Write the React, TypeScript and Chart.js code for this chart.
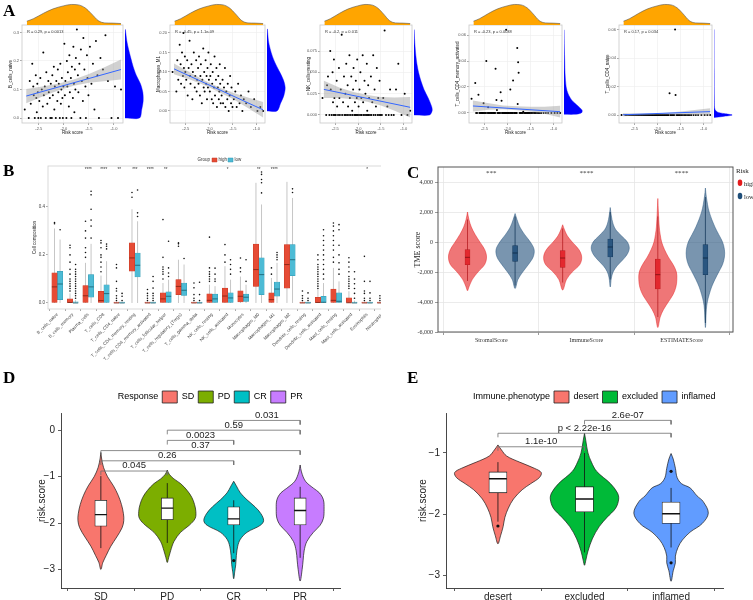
import React, { useEffect, useRef } from 'react';
import { Chart, registerables } from 'chart.js';

Chart.register(...registerables);

const SANS = "'Liberation Sans', Arial, Helvetica, sans-serif";
const SERIF = "'Liberation Serif', 'Times New Roman', Times, serif";

/* ================= Panel A data ================= */
const RISK_SCORE = [
  -2.78, -2.70, -2.68, -2.66, -2.63, -2.61, -2.60, -2.58, -2.56, -2.55, -2.54, -2.53, -2.52, -2.51,
  -2.49, -2.47, -2.46, -2.44, -2.42, -2.41, -2.40, -2.38, -2.36, -2.35, -2.33, -2.31, -2.30, -2.28, -2.27, -2.26,
  -2.24, -2.23, -2.22, -2.20, -2.19, -2.18, -2.16, -2.15, -2.13, -2.12, -2.11, -2.10, -2.08, -2.07, -2.06, -2.05, -2.04, -2.03, -2.02, -2.01,
  -1.99, -1.98, -1.97, -1.95, -1.94, -1.93, -1.92, -1.90, -1.89, -1.88, -1.86, -1.85, -1.84, -1.82, -1.81, -1.80, -1.79, -1.78, -1.77, -1.76,
  -1.74, -1.72, -1.71, -1.69, -1.67, -1.66, -1.64, -1.62, -1.61, -1.59, -1.57, -1.56, -1.54, -1.53, -1.51,
  -1.48, -1.45, -1.42, -1.39, -1.36, -1.33, -1.30, -1.27,
  -1.22, -1.17, -1.12, -1.05, -0.98, -0.92, -0.86,
];
const B_CELLS_NAIVE = [
  0.03, 0.0, 0.13, 0.05, 0.19, 0.11, 0.08, 0.0, 0.15, 0.07, 0.02, 0.12, 0.09, 0.0,
  0.06, 0.14, 0.0, 0.10, 0.04, 0.23, 0.08, 0.11, 0.0, 0.16, 0.05, 0.13, 0.09, 0.07, 0.0, 0.12,
  0.0, 0.15, 0.08, 0.18, 0.03, 0.11, 0.0, 0.13, 0.06, 0.17, 0.09, 0.12, 0.0, 0.19, 0.05, 0.10, 0.14, 0.07, 0.0, 0.11,
  0.26, 0.08, 0.13, 0.0, 0.20, 0.11, 0.16, 0.04, 0.22, 0.09, 0.14, 0.0, 0.18, 0.07, 0.25, 0.12, 0.02, 0.17, 0.10, 0.21,
  0.31, 0.15, 0.09, 0.19, 0.0, 0.24, 0.13, 0.06, 0.28, 0.17, 0.11, 0.0, 0.22, 0.14, 0.08,
  0.25, 0.12, 0.19, 0.03, 0.27, 0.15, 0.0, 0.21,
  0.17, 0.29, 0.13, 0.0, 0.11, 0.0, 0.10,
];
const MACROPHAGES_M1 = [
  0.10, 0.05, 0.13, 0.08, 0.17, 0.12, 0.07, 0.15, 0.09, 0.20, 0.11, 0.06, 0.14, 0.10,
  0.08, 0.13, 0.04, 0.11, 0.18, 0.09, 0.07, 0.12, 0.03, 0.10, 0.15, 0.06, 0.09, 0.13, 0.05, 0.08,
  0.11, 0.07, 0.14, 0.04, 0.09, 0.12, 0.02, 0.08, 0.16, 0.06, 0.10, 0.05, 0.13, 0.07, 0.09, 0.03, 0.11, 0.06, 0.15, 0.08,
  0.05, 0.09, 0.12, 0.03, 0.07, 0.10, 0.02, 0.06, 0.14, 0.04, 0.08, 0.11, 0.01, 0.06, 0.09, 0.03, 0.05, 0.12, 0.07, 0.02,
  0.04, 0.08, 0.02, 0.06, 0.11, 0.01, 0.05, 0.03, 0.07, 0.00, 0.04, 0.09, 0.02, 0.06, 0.01,
  0.03, 0.05, 0.01, 0.07, 0.02, 0.04, 0.00, 0.03,
  0.02, 0.05, 0.01, 0.03, 0.00, 0.01, 0.00,
];
const NK_CELLS_RESTING = [
  0.02, 0.0, 0.035, 0.045, 0.0, 0.075, 0.03, 0.0, 0.05, 0.015, 0.0, 0.065, 0.02, 0.0,
  0.0, 0.04, 0.01, 0.0, 0.055, 0.02, 0.0, 0.03, 0.094, 0.0, 0.015, 0.045, 0.0, 0.025, 0.0, 0.06,
  0.0, 0.035, 0.01, 0.0, 0.07, 0.02, 0.0, 0.045, 0.005, 0.0, 0.03, 0.055, 0.0, 0.015, 0.0, 0.04, 0.0, 0.02, 0.065, 0.0,
  0.01, 0.0, 0.03, 0.05, 0.0, 0.02, 0.0, 0.07, 0.015, 0.0, 0.04, 0.0, 0.025, 0.0, 0.06, 0.005, 0.0, 0.035, 0.0, 0.02,
  0.0, 0.045, 0.0, 0.015, 0.07, 0.0, 0.03, 0.0, 0.01, 0.055, 0.0, 0.02, 0.0, 0.04, 0.0,
  0.0, 0.02, 0.099, 0.0, 0.01, 0.0, 0.03, 0.0,
  0.0, 0.03, 0.06, 0.0, 0.025, 0.0, 0.005,
];
const CD4_MEMORY_ACTIVATED = [
  0.011, 0.023, 0, 0, 0.014, 0, 0, 0, 0, 0, 0, 0, 0.0074, 0,
  0, 0, 0.040, 0, 0.0044, 0, 0, 0, 0, 0, 0, 0, 0, 0, 0, 0.034,
  0.010, 0.0023, 0, 0, 0, 0, 0, 0.016, 0.0095, 0, 0, 0, 0, 0, 0, 0, 0, 0.064, 0, 0,
  0, 0, 0, 0, 0.018, 0, 0, 0, 0, 0.025, 0, 0, 0, 0, 0, 0, 0.050, 0.007, 0.039, 0.031,
  0, 0, 0, 0, 0, 0.001, 0, 0, 0, 0, 0, 0, 0, 0, 0,
  0, 0, 0, 0, 0, 0, 0, 0,
  0, 0, 0, 0, 0, 0, 0,
];
const CD4_NAIVE = [
  0, 0, 0, 0, 0, 0, 0, 0, 0, 0, 0, 0, 0, 0,
  0, 0, 0, 0, 0, 0, 0, 0, 0, 0, 0, 0, 0, 0, 0, 0,
  0, 0, 0, 0, 0, 0, 0, 0, 0, 0, 0, 0, 0, 0, 0, 0, 0, 0, 0, 0,
  0, 0, 0, 0, 0, 0, 0, 0, 0, 0, 0, 0, 0, 0, 0, 0, 0, 0, 0, 0,
  0.0152, 0, 0, 0, 0, 0, 0, 0.060, 0.014, 0, 0, 0, 0, 0, 0,
  0, 0, 0, 0, 0, 0, 0, 0,
  0, 0, 0, 0, 0, 0, 0,
];

const A_XTICKS = [-2.5, -2.0, -1.5, -1.0];
const RISK_DENS_X = [-2.74, -2.61, -2.41, -2.22, -2.02, -1.86, -1.72, -1.59, -1.46, -1.33, -1.2, -1.04, -0.88];
const RISK_DENS_Y = [0.18, 0.3, 0.56, 0.77, 0.91, 0.98, 0.96, 0.82, 0.53, 0.21, 0.1, 0.09, 0.07];

const FIT_X = [-2.75, -2.4, -2.1, -1.8, -1.5, -1.2, -0.86];
const FIT1_LO = [0.052, 0.077, 0.097, 0.113, 0.124, 0.129, 0.135];
const FIT1_HI = [0.102, 0.111, 0.121, 0.135, 0.154, 0.177, 0.205];
const FIT1_LINE = [0.077, 0.170];
const FIT2_LO = [0.094, 0.080, 0.066, 0.049, 0.031, 0.009, -0.017];
const FIT2_HI = [0.122, 0.098, 0.078, 0.061, 0.047, 0.035, 0.023];
const FIT2_LINE = [0.108, 0.003];
const FIT3_LO = [0.020, 0.020, 0.0185, 0.0155, 0.011, 0.005, -0.003];
const FIT3_HI = [0.040, 0.032, 0.027, 0.0235, 0.021, 0.0205, 0.021];
const FIT3_LINE = [0.030, 0.009];
const FIT4_LO = [0.0012, 0.0025, 0.0028, 0.0022, 0.0012, -0.0005, -0.0035];
const FIT4_HI = [0.0096, 0.0075, 0.0058, 0.0052, 0.0048, 0.0048, 0.0055];
const FIT4_LINE = [0.0054, 0.001];
const FIT5_LO = [-0.0008, -0.0004, 0.0, 0.0002, 0.0002, 0.0, -0.0003];
const FIT5_HI = [0.0012, 0.0010, 0.0011, 0.0016, 0.0025, 0.0036, 0.0048];
const FIT5_LINE = [0.0002, 0.0024];

const DENS1_Y = [0, 0.03, 0.06, 0.09, 0.12, 0.15, 0.18, 0.21, 0.24, 0.27, 0.31];
const DENS1_W = [0.8, 0.92, 1.0, 0.98, 0.85, 0.62, 0.45, 0.32, 0.2, 0.1, 0.02];
const DENS2_Y = [0, 0.02, 0.04, 0.06, 0.08, 0.1, 0.12, 0.14, 0.16, 0.18, 0.21];
const DENS2_W = [0.55, 0.75, 0.93, 1.0, 0.9, 0.7, 0.48, 0.3, 0.17, 0.08, 0.02];
const DENS3_Y = [0, 0.005, 0.01, 0.02, 0.03, 0.04, 0.05, 0.06, 0.07, 0.08, 0.09, 0.1];
const DENS3_W = [0.85, 1.0, 0.97, 0.78, 0.55, 0.38, 0.25, 0.16, 0.1, 0.06, 0.03, 0.01];
const DENS4_Y = [-0.001, 0, 0.002, 0.005, 0.01, 0.015, 0.02, 0.03, 0.04, 0.05, 0.064];
const DENS4_W = [0.6, 0.95, 1.0, 0.8, 0.42, 0.22, 0.12, 0.06, 0.04, 0.02, 0.005];
const DENS5_Y = [-0.0018, -0.001, 0, 0.001, 0.002, 0.004, 0.01, 0.03, 0.06];
const DENS5_W = [0, 0.5, 1.0, 0.55, 0.2, 0.05, 0.02, 0.01, 0.004];

/* ================= Panel B data ================= */
const B_CATS = [
  'B_cells_naive', 'B_cells_memory', 'Plasma_cells', 'T_cells_CD8', 'T_cells_CD4_naive',
  'T_cells_CD4_memory_resting', 'T_cells_CD4_memory_activated', 'T_cells_follicular_helper',
  'T_cells_regulatory_(Tregs)', 'T_cells_gamma_delta', 'NK_cells_resting', 'NK_cells_activated',
  'Monocytes', 'Macrophages_M0', 'Macrophages_M1', 'Macrophages_M2', 'Dendritic_cells_resting',
  'Dendritic_cells_activated', 'Mast_cells_resting', 'Mast_cells_activated', 'Eosinophils', 'Neutrophils',
];
// [q1, median, q3, whiskerLow, whiskerHigh]
const B_HIGH_BOX = [
  [0, 0.067, 0.125, 0, 0.31], [0, 0.002, 0.017, 0, 0.04], [0, 0.03, 0.072, 0, 0.167], [0, 0.01, 0.049, 0, 0.114],
  [0, 0, 0.004, 0, 0.004], [0.132, 0.1875, 0.25, 0, 0.39], [0, 0, 0.004, 0, 0.004], [0, 0.017, 0.042, 0, 0.083],
  [0.035, 0.069, 0.097, 0, 0.18], [0, 0, 0.004, 0, 0.004], [0, 0.011, 0.038, 0, 0.076], [0, 0.029, 0.062, 0, 0.153],
  [0.004, 0.028, 0.051, 0, 0.11], [0.069, 0.139, 0.245, 0, 0.5], [0, 0.014, 0.042, 0, 0.104], [0.062, 0.16, 0.243, 0, 0.504],
  [0, 0, 0.004, 0, 0.004], [0, 0.002, 0.024, 0, 0.056], [0, 0.011, 0.058, 0, 0.146], [0, 0.001, 0.021, 0, 0.049],
  [0, 0, 0.004, 0, 0.004], [0, 0, 0.004, 0, 0.004],
];
const B_LOW_BOX = [
  [0.014, 0.079, 0.132, 0, 0.264], [0, 0, 0.005, 0, 0.012], [0.024, 0.067, 0.118, 0, 0.246], [0, 0.039, 0.076, 0, 0.174],
  [0, 0, 0.004, 0, 0.004], [0.108, 0.157, 0.208, 0, 0.34], [0, 0, 0.004, 0, 0.004], [0.002, 0.028, 0.046, 0, 0.097],
  [0.032, 0.053, 0.083, 0, 0.16], [0, 0, 0.004, 0, 0.004], [0, 0.017, 0.037, 0, 0.07], [0, 0.021, 0.042, 0, 0.097],
  [0.007, 0.024, 0.037, 0, 0.076], [0.035, 0.118, 0.1875, 0, 0.41], [0.028, 0.058, 0.0875, 0, 0.167], [0.114, 0.18, 0.243, 0, 0.437],
  [0, 0, 0.004, 0, 0.004], [0, 0.003, 0.028, 0, 0.083], [0, 0.007, 0.042, 0, 0.09], [0, 0, 0.004, 0, 0.01],
  [0, 0, 0.004, 0, 0.004], [0, 0, 0.004, 0, 0.004],
];
const B_HIGH_OUT = [
  [0.33, 0.335], [0.05, 0.06, 0.07, 0.08, 0.09, 0.1, 0.12, 0.14, 0.17, 0.2, 0.23, 0.24], [0.19, 0.21, 0.23, 0.27, 0.3, 0.34],
  [0.13, 0.15, 0.17, 0.19, 0.2, 0.23, 0.25, 0.26], [0.01, 0.02, 0.03, 0.05, 0.06, 0.09, 0.146, 0.16], [0.44, 0.46],
  [0.01, 0.02, 0.03, 0.04, 0.056], [0.1, 0.12, 0.13, 0.14, 0.15, 0.19, 0.347], [0.236, 0.246, 0.25],
  [0.01, 0.02, 0.035, 0.063, 0.083], [0.09, 0.1, 0.11, 0.12, 0.13, 0.146, 0.274], [0.17, 0.2, 0.243],
  [0.13, 0.146, 0.187], [], [0.12, 0.146], [], [0.01, 0.02, 0.03, 0.05],
  [0.06, 0.07, 0.08, 0.09, 0.1, 0.11, 0.12, 0.13, 0.14, 0.15, 0.16, 0.18, 0.2],
  [0.17, 0.19, 0.22, 0.24, 0.26, 0.28, 0.3, 0.32, 0.333], [0.06, 0.07, 0.08, 0.09, 0.1, 0.11, 0.13, 0.15, 0.17, 0.188],
  [0.01, 0.02, 0.04, 0.05, 0.09, 0.194], [0.01, 0.02, 0.03],
];
const B_LOW_OUT = [
  [0.305], [0.02, 0.03, 0.04, 0.05, 0.06, 0.07, 0.08, 0.09, 0.1, 0.11, 0.12, 0.13, 0.14, 0.16],
  [0.27, 0.32, 0.345, 0.39, 0.45, 0.465], [0.225, 0.236, 0.245], [0.01, 0.028, 0.04], [0.36, 0.375, 0.47],
  [0.01, 0.02, 0.03, 0.04, 0.062, 0.09, 0.11], [0.11, 0.125, 0.146, 0.257], [0.185], [0.01, 0.035, 0.086],
  [0.09, 0.1, 0.12, 0.145], [0.12, 0.14, 0.16, 0.18], [0.09, 0.18], [0.458, 0.5, 0.514, 0.535, 0.545],
  [0.18, 0.19, 0.2, 0.21], [0.46, 0.475], [0.01, 0.02, 0.042],
  [0.1, 0.12, 0.14, 0.16, 0.18, 0.2, 0.22, 0.24, 0.26, 0.28, 0.305], [0.12, 0.14, 0.167, 0.2, 0.24, 0.305, 0.326],
  [0.02, 0.04, 0.06, 0.08, 0.1, 0.13], [0.01, 0.02, 0.042, 0.09], [0.01, 0.03, 0.05, 0.08],
];
const B_SIG = ['', '', '****', '****', '**', '***', '****', '**', '', '', '', '*', '', '**', '****', '', '', '', '', '', '*', ''];
const B_YTICKS = [0, 0.2, 0.4];

/* ================= Panel C data ================= */
const C_CATS = ['StromalScore', 'ImmuneScore', 'ESTIMATEScore'];
const C_HIGH_Y = [
  [2000, 1500, 1000, 500, 0, -500, -1000, -1500, -2000, -2500, -3000, -3250],
  [1150, 800, 400, 0, -500, -1000, -1500, -2000, -2500, -3200],
  [2900, 2000, 1000, 500, 0, -500, -1000, -1500, -2000, -2500, -3000, -3500, -4000, -4500, -5000, -5700],
];
const C_HIGH_W = [
  [0, 0.015, 0.04, 0.08, 0.13, 0.18, 0.2, 0.18, 0.11, 0.05, 0.015, 0],
  [0, 0.02, 0.05, 0.1, 0.17, 0.2, 0.18, 0.1, 0.04, 0],
  [0, 0.006, 0.015, 0.025, 0.04, 0.07, 0.11, 0.16, 0.195, 0.2, 0.19, 0.16, 0.11, 0.06, 0.025, 0],
];
const C_LOW_Y = [
  [1900, 1500, 1000, 500, 0, -500, -1000, -1500, -2000, -2500, -3100],
  [2300, 1800, 1200, 800, 400, 0, -400, -800, -1200, -1600, -2000, -2400, -3000],
  [3600, 3000, 2000, 1000, 500, 0, -500, -1000, -1500, -2000, -2500, -3000, -3500, -4000, -4500, -5700],
];
const C_LOW_W = [
  [0, 0.02, 0.05, 0.1, 0.16, 0.2, 0.19, 0.14, 0.08, 0.03, 0],
  [0, 0.01, 0.03, 0.06, 0.12, 0.18, 0.2, 0.18, 0.13, 0.07, 0.03, 0.012, 0],
  [0, 0.01, 0.04, 0.1, 0.14, 0.18, 0.2, 0.2, 0.18, 0.14, 0.1, 0.065, 0.04, 0.02, 0.01, 0],
];
const C_HIGH_BOX = [[-1511, -1022, -511, -2600, 1500], [-1689, -1067, -578, -2700, 900], [-3133, -2178, -1133, -5000, 1700]];
const C_LOW_BOX = [[-1289, -733, -244, -2900, 1700], [-1000, -333, 200, -2500, 2000], [-2178, -1067, -178, -5400, 3000]];
const C_SIG = ['***', '****', '****'];
const C_YTICKS = [-6000, -4000, -2000, 0, 2000, 4000];

/* ================= Panel D data ================= */
const D_CATS = ['SD', 'PD', 'CR', 'PR'];
const D_VIOLIN_Y = [
  [-0.48, -0.6, -0.8, -1.0, -1.2, -1.4, -1.6, -1.8, -1.95, -2.1, -2.3, -2.5, -2.7, -2.85, -3.0],
  [-0.86, -0.95, -1.05, -1.15, -1.3, -1.45, -1.6, -1.75, -1.9, -2.05, -2.2, -2.4, -2.6, -2.75, -2.85],
  [-1.1, -1.2, -1.35, -1.5, -1.65, -1.8, -1.95, -2.05, -2.2, -2.35, -2.5, -2.7, -2.9, -3.05, -3.2],
  [-0.75, -0.9, -1.1, -1.25, -1.35, -1.5, -1.7, -1.9, -2.05, -2.2, -2.4, -2.6, -2.8, -3.0, -3.25],
];
const D_VIOLIN_W = [
  [0, 0.01, 0.04, 0.1, 0.19, 0.26, 0.31, 0.34, 0.345, 0.32, 0.24, 0.15, 0.08, 0.03, 0],
  [0, 0.03, 0.1, 0.2, 0.3, 0.37, 0.41, 0.43, 0.42, 0.33, 0.2, 0.1, 0.05, 0.02, 0],
  [0, 0.04, 0.1, 0.2, 0.32, 0.41, 0.45, 0.4, 0.2, 0.1, 0.06, 0.04, 0.03, 0.015, 0],
  [0, 0.02, 0.08, 0.2, 0.29, 0.35, 0.36, 0.35, 0.3, 0.2, 0.1, 0.06, 0.045, 0.03, 0],
];
const D_BOX = [[-2.07, -1.82, -1.51, -2.54, -0.99], [-1.93, -1.68, -1.46, -2.43, -1.14], [-2.04, -1.91, -1.65, -2.65, -1.51], [-2.04, -1.73, -1.46, -2.75, -1.22]];
const D_OUT = [[], [], [-2.81], []];
const D_PAIR_FROM = [0, 0, 0, 1, 1, 2];
const D_PAIR_TO = [1, 2, 3, 2, 3, 3];
const D_PAIR_Y = [-0.88, -0.66, -0.44, -0.22, 0.0, 0.21];
const D_PAIR_P = ['0.045', '0.26', '0.37', '0.0023', '0.59', '0.031'];
const D_YTICKS = [-3, -2, -1, 0];

/* ================= Panel E data ================= */
const E_CATS = ['desert', 'excluded', 'inflamed'];
const E_VIOLIN_Y = [
  [-0.87, -0.95, -1.05, -1.15, -1.25, -1.32, -1.4, -1.5, -1.6, -1.75, -1.9, -2.05, -2.2, -2.35, -2.48],
  [-0.68, -0.8, -1.0, -1.15, -1.3, -1.5, -1.65, -1.75, -1.9, -2.05, -2.2, -2.4, -2.6, -2.75, -2.83],
  [-1.01, -1.1, -1.25, -1.4, -1.5, -1.57, -1.7, -1.79, -1.98, -2.15, -2.29, -2.42, -2.54, -2.68, -2.79, -2.92, -3.09],
];
const E_VIOLIN_W = [
  [0, 0.04, 0.1, 0.25, 0.42, 0.5, 0.48, 0.38, 0.28, 0.18, 0.12, 0.08, 0.06, 0.03, 0],
  [0, 0.015, 0.04, 0.08, 0.14, 0.3, 0.38, 0.395, 0.36, 0.26, 0.17, 0.09, 0.04, 0.015, 0],
  [0, 0.025, 0.05, 0.07, 0.12, 0.22, 0.3, 0.37, 0.43, 0.36, 0.22, 0.13, 0.08, 0.05, 0.05, 0.025, 0],
];
const E_BOX = [[-1.65, -1.42, -1.31, -2.12, -1.15], [-1.96, -1.75, -1.55, -2.62, -1.0], [-2.15, -1.99, -1.8, -2.54, -1.57]];
const E_OUT = [[-2.19], [], [-1.3, -2.79]];
const E_PAIR_FROM = [0, 0, 1];
const E_PAIR_TO = [1, 2, 2];
const E_PAIR_Y = [-0.9, -0.68, -0.47];
const E_PAIR_P = ['1.1e-10', 'p < 2.22e-16', '2.6e-07'];
const E_YTICKS = [-3, -2, -1];

/* ================= helpers ================= */
function annot(cfg: any) {
  return {
    id: 'annot',
    afterDatasetsDraw(chart: any) {
      const ctx = chart.ctx;
      const a = chart.chartArea;
      ctx.save();
      if (cfg.frame) {
        ctx.strokeStyle = cfg.frame.color;
        ctx.lineWidth = cfg.frame.width;
        ctx.strokeRect(a.left, a.top, a.right - a.left, a.bottom - a.top);
      }
      (cfg.keys || []).forEach((k: any) => {
        ctx.fillStyle = k.fill;
        ctx.beginPath();
        if (k.shape === 'ellipse') ctx.ellipse(k.x, k.y, k.w, k.h, 0, 0, Math.PI * 2);
        else ctx.rect(k.x, k.y, k.w, k.h);
        ctx.fill();
        if (k.stroke) { ctx.strokeStyle = k.stroke; ctx.lineWidth = 0.5; ctx.stroke(); }
      });
      (cfg.texts || []).forEach((t: any) => {
        let x = t.x, y = t.y;
        if (t.mode === 'area') { x = a.left + t.x; y = a.top + t.y; }
        else if (t.mode !== 'canvas') { x = chart.scales.x.getPixelForValue(t.x); y = chart.scales.y.getPixelForValue(t.y); }
        ctx.font = (t.italic ? 'italic ' : '') + t.size + 'px ' + (t.family || SANS);
        ctx.fillStyle = t.color || '#222';
        ctx.textAlign = t.align || 'center';
        ctx.textBaseline = t.baseline || 'middle';
        ctx.fillText(t.text, x, y + (t.dy || 0));
      });
      ctx.restore();
    },
  };
}

function violinPoints(c: number, ys: number[], ws: number[]) {
  const left = ys.map((y, i) => ({ x: c - ws[i], y }));
  const right: any[] = [];
  for (let i = ys.length - 2; i >= 0; i--) right.push({ x: c + ws[i], y: ys[i] });
  return left.concat(right);
}

const BASE = { animation: false, responsive: false, devicePixelRatio: 1, events: [] as any[] };

/* ================= Panel A configs ================= */
const A_XMIN = -2.835;
const A_XMAX = -0.82;
const A_PANELS = [
  { ys: B_CELLS_NAIVE, name: 'B_cells_naive', stat: 'R = 0.29, p = 0.0013', yTicks: [0, 0.1, 0.2, 0.3], dec: 1, yMin: -0.0175, yMax: 0.326, lo: FIT1_LO, hi: FIT1_HI, line: FIT1_LINE, dy: DENS1_Y, dw: DENS1_W, left: 22, right: 124 },
  { ys: MACROPHAGES_M1, name: 'Macrophages_M1', stat: 'R = -0.45, p = 1.1e-09', yTicks: [0, 0.05, 0.1, 0.15, 0.2], dec: 2, yMin: -0.0308, yMax: 0.2205, lo: FIT2_LO, hi: FIT2_HI, line: FIT2_LINE, dy: DENS2_Y, dw: DENS2_W, left: 170, right: 266 },
  { ys: NK_CELLS_RESTING, name: 'NK_cells_resting', stat: 'R = -0.2, p = 0.011', yTicks: [0, 0.025, 0.05, 0.075], dec: 3, yMin: -0.0094, yMax: 0.1055, lo: FIT3_LO, hi: FIT3_HI, line: FIT3_LINE, dy: DENS3_Y, dw: DENS3_W, left: 320, right: 413 },
  { ys: CD4_MEMORY_ACTIVATED, name: 'T_cells_CD4_memory_activated', stat: 'R = -0.23, p = 0.0038', yTicks: [0, 0.02, 0.04, 0.06], dec: 2, yMin: -0.0077, yMax: 0.0677, lo: FIT4_LO, hi: FIT4_HI, line: FIT4_LINE, dy: DENS4_Y, dw: DENS4_W, left: 469, right: 563 },
  { ys: CD4_NAIVE, name: 'T_cells_CD4_naive', stat: 'R = 0.17, p = 0.034', yTicks: [0, 0.02, 0.04, 0.06], dec: 2, yMin: -0.0056, yMax: 0.0632, lo: FIT5_LO, hi: FIT5_HI, line: FIT5_LINE, dy: DENS5_Y, dw: DENS5_W, left: 619, right: 713 },
];

function aScatter(p: any) {
  const pts = RISK_SCORE.map((x, i) => ({ x, y: p.ys[i] }));
  const band = FIT_X.map((x, i) => ({ x, y: p.hi[i] })).concat(FIT_X.map((x, i) => ({ x, y: p.lo[i] })).reverse());
  const line = [{ x: FIT_X[0], y: p.line[0] }, { x: FIT_X[FIT_X.length - 1], y: p.line[1] }];
  const tickFont = { size: 4, family: SANS };
  const grid = { color: '#ececec', lineWidth: 0.6, tickLength: 2, tickColor: '#555', tickWidth: 0.5 };
  return {
    type: 'scatter',
    data: {
      datasets: [
        { data: line, showLine: true, borderColor: '#3366FF', borderWidth: 1, pointRadius: 0, order: 1 },
        { data: band, showLine: true, fill: 'shape', backgroundColor: 'rgba(153,153,153,0.45)', borderColor: 'rgba(0,0,0,0)', borderWidth: 0, pointRadius: 0, order: 2 },
        { data: pts, pointRadius: 1, pointBackgroundColor: '#000', pointBorderWidth: 0, order: 3 },
      ],
    },
    options: {
      ...BASE,
      layout: { padding: { left: 0, right: 3, top: 5, bottom: 0 } },
      plugins: { legend: { display: false }, tooltip: { enabled: false } },
      scales: {
        x: {
          type: 'linear', min: A_XMIN, max: A_XMAX,
          afterBuildTicks: (s: any) => { s.ticks = A_XTICKS.map((v) => ({ value: v })); },
          afterFit: (s: any) => { s.height = 14; },
          grid, border: { display: false },
          ticks: { font: tickFont, color: '#555', padding: 1, maxRotation: 0, autoSkip: false, callback: (v: any) => Number(v).toFixed(1) },
          title: { display: true, text: 'Risk score', font: { size: 4.5, family: SANS }, color: '#222', padding: { top: 0, bottom: 2 } },
        },
        y: {
          type: 'linear', min: p.yMin, max: p.yMax,
          afterBuildTicks: (s: any) => { s.ticks = p.yTicks.map((v: number) => ({ value: v })); },
          afterFit: (s: any) => { s.width = 22; },
          grid, border: { display: false },
          ticks: { font: tickFont, color: '#555', padding: 1, autoSkip: false, callback: (v: any) => Number(v).toFixed(p.dec) },
          title: { display: true, text: p.name, font: { size: 4.5, family: SANS }, color: '#222', padding: { top: 8, bottom: 0 } },
        },
      },
    },
    plugins: [annot({ frame: { color: '#c8c8c8', width: 0.8 }, texts: [{ mode: 'area', x: 5, y: 7, text: p.stat, size: 4, align: 'left', color: '#333' }] })],
  };
}

function aTopDensity() {
  return {
    type: 'scatter',
    data: {
      datasets: [{
        data: RISK_DENS_X.map((x, i) => ({ x, y: RISK_DENS_Y[i] })),
        showLine: true, fill: 'origin', backgroundColor: '#FFA500', borderColor: '#555', borderWidth: 0.6,
        pointRadius: 0, cubicInterpolationMode: 'monotone',
      }],
    },
    options: {
      ...BASE,
      layout: { padding: 0 },
      plugins: { legend: { display: false }, tooltip: { enabled: false } },
      scales: { x: { type: 'linear', display: false, min: A_XMIN, max: A_XMAX }, y: { type: 'linear', display: false, min: 0, max: 1.05 } },
    },
  };
}

function aSideDensity(p: any) {
  const n = p.dy.length;
  const pts = [{ x: 0, y: p.dy[0] }].concat(p.dy.map((y: number, i: number) => ({ x: p.dw[i], y }))).concat([{ x: 0, y: p.dy[n - 1] }]);
  return {
    type: 'scatter',
    data: { datasets: [{ data: pts, showLine: true, fill: 'shape', backgroundColor: '#0000FF', borderColor: '#0000FF', borderWidth: 0.4, pointRadius: 0, tension: 0.3 }] },
    options: {
      ...BASE,
      layout: { padding: 0 },
      plugins: { legend: { display: false }, tooltip: { enabled: false } },
      scales: { x: { type: 'linear', display: false, min: 0, max: 1.1 }, y: { type: 'linear', display: false, min: p.yMin, max: p.yMax } },
    },
  };
}

/* ================= Panel B config ================= */
const B_OFFSET = 0.18;
function bConfig() {
  const groups = [
    { box: B_HIGH_BOX, out: B_HIGH_OUT, off: -B_OFFSET, fill: '#E64B35', edge: '#C33A25', med: '#7E1F10' },
    { box: B_LOW_BOX, out: B_LOW_OUT, off: B_OFFSET, fill: '#4DBBD5', edge: '#2F97B0', med: '#165A6B' },
  ];
  const datasets: any[] = [];
  groups.forEach((g) => {
    datasets.push({ type: 'scatter', data: g.box.flatMap((b, i) => [{ x: i + g.off, y: b[3] }, { x: i + g.off, y: b[4] }, { x: i + g.off, y: null }]), showLine: true, borderColor: '#a0a0a0', borderWidth: 0.6, pointRadius: 0, order: 5 });
    datasets.push({ type: 'bar', data: g.box.map((b, i) => ({ x: i + g.off, y: [b[0], b[2]] })), backgroundColor: g.fill, borderColor: g.edge, borderWidth: 0.5, borderSkipped: false, grouped: false, barThickness: 5.4, order: 4 });
    datasets.push({ type: 'scatter', data: g.box.flatMap((b, i) => [{ x: i + g.off - 0.17, y: b[1] }, { x: i + g.off + 0.17, y: b[1] }, { x: i + g.off, y: null }]), showLine: true, borderColor: g.med, borderWidth: 0.8, pointRadius: 0, order: 3 });
    datasets.push({ type: 'scatter', data: g.out.flatMap((arr, i) => arr.map((v) => ({ x: i + g.off, y: v }))), pointRadius: 0.8, pointBackgroundColor: '#111', pointBorderWidth: 0, order: 2 });
  });
  const grid = { display: true, drawOnChartArea: false, tickLength: 2, tickColor: '#555', tickWidth: 0.5 };
  const texts: any[] = B_SIG.map((s, i) => ({ x: i, y: 0.553, text: s, size: 4.5, color: '#333' }));
  texts.push({ mode: 'canvas', x: 210, y: 12, text: 'Group', size: 4.5, align: 'right', color: '#333' });
  texts.push({ mode: 'canvas', x: 218.5, y: 12, text: 'high', size: 4.5, align: 'left', color: '#333' });
  texts.push({ mode: 'canvas', x: 234.5, y: 12, text: 'low', size: 4.5, align: 'left', color: '#333' });
  return {
    type: 'scatter',
    data: { datasets },
    options: {
      ...BASE,
      layout: { padding: { left: 31, right: 8, top: 18, bottom: 0 } },
      plugins: { legend: { display: false }, tooltip: { enabled: false } },
      scales: {
        x: {
          type: 'linear', min: -0.6, max: 21.6, offset: false,
          afterBuildTicks: (s: any) => { s.ticks = B_CATS.map((_, i) => ({ value: i })); },
          afterFit: (s: any) => { s.height = 51; },
          grid, border: { display: false },
          ticks: { autoSkip: false, minRotation: 45, maxRotation: 45, font: { size: 4.5, family: SANS }, color: '#444', padding: 1, callback: (v: any) => B_CATS[Math.round(Number(v))] },
        },
        y: {
          type: 'linear', min: -0.025, max: 0.57,
          afterBuildTicks: (s: any) => { s.ticks = B_YTICKS.map((v) => ({ value: v })); },
          afterFit: (s: any) => { s.width = 17; },
          grid, border: { display: false },
          ticks: { font: { size: 4.5, family: SANS }, color: '#444', padding: 1, callback: (v: any) => Number(v).toFixed(1) },
          title: { display: true, text: 'Cell composition', font: { size: 4.5, family: SANS }, color: '#222', padding: { top: 1, bottom: 0 } },
        },
      },
    },
    plugins: [annot({
      frame: { color: '#cfcfcf', width: 0.8 },
      keys: [{ x: 212, y: 10, w: 5, h: 4, fill: '#E64B35', stroke: '#C33A25' }, { x: 228, y: 10, w: 5, h: 4, fill: '#4DBBD5', stroke: '#2F97B0' }],
      texts,
    })],
  };
}

/* ================= Panel C config ================= */
function cConfig() {
  const datasets: any[] = [];
  const sides = [
    { ys: C_HIGH_Y, ws: C_HIGH_W, box: C_HIGH_BOX, off: -0.25, vfill: 'rgba(228,26,28,0.6)', vline: 'rgba(228,26,28,0.75)', bfill: '#E3282E', bedge: '#B61D22', med: '#7A0F12' },
    { ys: C_LOW_Y, ws: C_LOW_W, box: C_LOW_BOX, off: 0.25, vfill: 'rgba(31,78,121,0.6)', vline: 'rgba(31,78,121,0.75)', bfill: '#2A5680', bedge: '#173A5C', med: '#0B2640' },
  ];
  sides.forEach((s) => {
    C_CATS.forEach((_, i) => {
      datasets.push({ type: 'scatter', data: violinPoints(i + s.off, s.ys[i], s.ws[i]), showLine: true, fill: 'shape', backgroundColor: s.vfill, borderColor: s.vline, borderWidth: 0.6, pointRadius: 0, tension: 0.35, order: 6 });
    });
    datasets.push({ type: 'scatter', data: s.box.flatMap((b, i) => [{ x: i + s.off, y: b[3] }, { x: i + s.off, y: b[4] }, { x: i + s.off, y: null }]), showLine: true, borderColor: s.bedge, borderWidth: 0.8, pointRadius: 0, order: 5 });
    datasets.push({ type: 'bar', data: s.box.map((b, i) => ({ x: i + s.off, y: [b[0], b[2]] })), backgroundColor: s.bfill, borderColor: s.bedge, borderWidth: 0.6, borderSkipped: false, grouped: false, barThickness: 5, order: 4 });
    datasets.push({ type: 'scatter', data: s.box.flatMap((b, i) => [{ x: i + s.off - 0.026, y: b[1] }, { x: i + s.off + 0.026, y: b[1] }, { x: i + s.off, y: null }]), showLine: true, borderColor: s.med, borderWidth: 0.8, pointRadius: 0, order: 3 });
  });
  const grid = { display: true, color: '#e6e6e6', lineWidth: 0.8, tickLength: 3, tickColor: '#555', tickWidth: 0.6 };
  const texts: any[] = C_SIG.map((s, i) => ({ x: i, y: 4600, text: s, size: 7, family: SERIF, color: '#333' }));
  texts.push({ mode: 'canvas', x: 355, y: 21.5, text: 'Risk', size: 7, family: SERIF, align: 'left', color: '#222' });
  texts.push({ mode: 'canvas', x: 363, y: 34.3, text: 'high', size: 6.5, family: SERIF, align: 'left', color: '#222' });
  texts.push({ mode: 'canvas', x: 363, y: 47.5, text: 'low', size: 6.5, family: SERIF, align: 'left', color: '#222' });
  return {
    type: 'scatter',
    data: { datasets },
    options: {
      ...BASE,
      layout: { padding: { left: 30, right: 28, top: 17, bottom: 0 } },
      plugins: { legend: { display: false }, tooltip: { enabled: false } },
      scales: {
        x: {
          type: 'linear', min: -0.56, max: 2.54, offset: false,
          afterBuildTicks: (s: any) => { s.ticks = C_CATS.map((_, i) => ({ value: i })); },
          afterFit: (s: any) => { s.height = 18; },
          grid, border: { display: false },
          ticks: { autoSkip: false, maxRotation: 0, font: { size: 6, family: SERIF }, color: '#333', padding: 2, callback: (v: any) => C_CATS[Math.round(Number(v))] },
        },
        y: {
          type: 'linear', min: -6000, max: 5000,
          afterBuildTicks: (s: any) => { s.ticks = C_YTICKS.map((v) => ({ value: v })); },
          afterFit: (s: any) => { s.width = 27; },
          grid, border: { display: false },
          ticks: { font: { size: 6, family: SERIF }, color: '#333', padding: 2, callback: (v: any) => Number(v).toLocaleString('en-US') },
          title: { display: true, text: 'TME score', font: { size: 8, family: SERIF }, color: '#222', padding: { top: 2, bottom: 0 } },
        },
      },
    },
    plugins: [annot({
      frame: { color: '#555', width: 1 },
      keys: [{ x: 359, y: 32.7, w: 2.3, h: 3.3, fill: '#E41A1C', shape: 'ellipse' }, { x: 359, y: 46, w: 2.3, h: 3.3, fill: '#1F4E79', shape: 'ellipse' }],
      texts,
    })],
  };
}

/* ================= Panels D & E config ================= */
function respConfig(s: any) {
  const datasets: any[] = [];
  s.cats.forEach((_: string, i: number) => {
    datasets.push({ type: 'scatter', data: violinPoints(i, s.vy[i], s.vw[i]), showLine: true, fill: 'shape', backgroundColor: s.colors[i], borderColor: '#1a1a1a', borderWidth: 0.7, pointRadius: 0, tension: 0.35, order: 6 });
  });
  datasets.push({ type: 'scatter', data: s.box.flatMap((b: number[], i: number) => [{ x: i, y: b[3] }, { x: i, y: b[4] }, { x: i, y: null }]), showLine: true, borderColor: '#111', borderWidth: 0.8, pointRadius: 0, order: 5 });
  datasets.push({ type: 'bar', data: s.box.map((b: number[], i: number) => ({ x: i, y: [b[0], b[2]] })), backgroundColor: '#ffffff', borderColor: '#222', borderWidth: 0.8, borderSkipped: false, grouped: false, barThickness: s.boxPx, order: 4 });
  datasets.push({ type: 'scatter', data: s.box.flatMap((b: number[], i: number) => [{ x: i - s.medHalf, y: b[1] }, { x: i + s.medHalf, y: b[1] }, { x: i, y: null }]), showLine: true, borderColor: '#111', borderWidth: 1.4, pointRadius: 0, order: 3 });
  datasets.push({ type: 'scatter', data: s.out.flatMap((arr: number[], i: number) => arr.map((v) => ({ x: i, y: v }))), pointRadius: 1.6, pointBackgroundColor: '#111', pointBorderWidth: 0, order: 2 });
  datasets.push({
    type: 'scatter',
    data: s.from.flatMap((f: number, k: number) => [
      { x: f, y: s.py[k] - s.tip }, { x: f, y: s.py[k] }, { x: s.to[k], y: s.py[k] }, { x: s.to[k], y: s.py[k] - s.tip }, { x: s.to[k], y: null },
    ]),
    showLine: true, borderColor: '#6e6e6e', borderWidth: 0.8, pointRadius: 0, order: 1,
  });
  const texts = s.from.map((f: number, k: number) => ({ x: (f + s.to[k]) / 2, y: s.py[k], text: s.pv[k], size: 9.5, baseline: 'bottom', dy: -0.5, color: '#222' }));
  const grid = { display: true, drawOnChartArea: false, tickLength: 3, tickColor: '#333', tickWidth: 0.8 };
  const border = { display: true, color: '#333', width: 0.9 };
  return {
    type: 'scatter',
    data: { datasets },
    options: {
      ...BASE,
      layout: { padding: { left: s.padL, right: s.padR, top: 2, bottom: 0 } },
      plugins: {
        tooltip: { enabled: false },
        legend: {
          display: true, position: 'top', fullSize: false, align: 'center',
          labels: {
            boxWidth: 15, boxHeight: 12, padding: 4, color: '#222', font: { size: 9, family: SANS },
            generateLabels: () => [{ text: s.legendTitle, fillStyle: 'rgba(0,0,0,0)', strokeStyle: 'rgba(0,0,0,0)', lineWidth: 0, hidden: false }]
              .concat(s.cats.map((t: string, i: number) => ({ text: t, fillStyle: s.colors[i], strokeStyle: '#222', lineWidth: 0.8, hidden: false }))),
          },
        },
      },
      scales: {
        x: {
          type: 'linear', min: s.xMin, max: s.xMax, offset: false,
          afterBuildTicks: (sc: any) => { sc.ticks = s.cats.map((_: string, i: number) => ({ value: i })); },
          afterFit: (sc: any) => { sc.height = 12; },
          grid, border,
          ticks: { autoSkip: false, maxRotation: 0, font: { size: 10, family: SANS }, color: '#222', padding: 0, callback: (v: any) => s.cats[Math.round(Number(v))] },
        },
        y: {
          type: 'linear', min: s.yMin, max: s.yMax,
          afterBuildTicks: (sc: any) => { sc.ticks = s.yTicks.map((v: number) => ({ value: v })); },
          afterFit: (sc: any) => { sc.width = s.yW; },
          grid, border,
          ticks: { font: { size: 10, family: SANS }, color: '#222', padding: 3, callback: (v: any) => (Number(v) < 0 ? '\u2212' + Math.abs(Number(v)) : String(v)) },
          title: { display: true, text: 'risk.score', font: { size: 10, family: SANS }, color: '#222', padding: { top: s.titlePad, bottom: 0 } },
        },
      },
    },
    plugins: [annot({ texts })],
  };
}

function dConfig() {
  return respConfig({
    cats: D_CATS, colors: ['#F8766D', '#7CAE00', '#00BFC4', '#C77CFF'], vy: D_VIOLIN_Y, vw: D_VIOLIN_W, box: D_BOX, out: D_OUT,
    from: D_PAIR_FROM, to: D_PAIR_TO, py: D_PAIR_Y, pv: D_PAIR_P, tip: 0.09, boxPx: 12, medHalf: 0.09,
    xMin: -0.6, xMax: 3.6, yMin: -3.4, yMax: 0.37, yTicks: D_YTICKS, padL: 32, padR: 36, yW: 29, titlePad: 4, legendTitle: 'Response',
  });
}
function eConfig() {
  return respConfig({
    cats: E_CATS, colors: ['#F8766D', '#00BA38', '#619CFF'], vy: E_VIOLIN_Y, vw: E_VIOLIN_W, box: E_BOX, out: E_OUT,
    from: E_PAIR_FROM, to: E_PAIR_TO, py: E_PAIR_Y, pv: E_PAIR_P, tip: 0.066, boxPx: 18, medHalf: 0.103,
    xMin: -0.6, xMax: 2.6, yMin: -3.2, yMax: -0.35, yTicks: E_YTICKS, padL: 36, padR: 30, yW: 29, titlePad: 0, legendTitle: 'Immune.phenotype',
  });
}

/* ================= components ================= */
function ChartBox(props: { left: number; top: number; width: number; height: number; make: () => any }) {
  const ref = useRef<HTMLCanvasElement | null>(null);
  useEffect(() => {
    const chart = new Chart(ref.current as HTMLCanvasElement, props.make());
    return () => chart.destroy();
  }, []);
  return (
    <canvas
      ref={ref}
      width={props.width}
      height={props.height}
      style={{ position: 'absolute', left: props.left, top: props.top, width: props.width, height: props.height, display: 'block' }}
    />
  );
}

function Letter(props: { x: number; y: number; t: string }) {
  return (
    <div style={{ position: 'absolute', left: props.x, top: props.y, fontFamily: SERIF, fontWeight: 'bold', fontSize: 17, lineHeight: '17px', color: '#000' }}>
      {props.t}
    </div>
  );
}

export default function App() {
  return (
    <div style={{ position: 'absolute', left: 0, top: 0, width: 753, height: 600, background: '#fff', overflow: 'hidden' }}>
      {A_PANELS.map((p, i) => (
        <React.Fragment key={i}>
          <ChartBox left={p.left - 22} top={20} width={p.right - p.left + 25} height={117} make={() => aScatter(p)} />
          <ChartBox left={p.left} top={3} width={p.right - p.left} height={22} make={aTopDensity} />
          <ChartBox left={p.right + 1} top={25} width={20} height={98} make={() => aSideDensity(p)} />
        </React.Fragment>
      ))}
      <div style={{ position: 'absolute', left: 0, top: 148, width: 381, height: 212, overflow: 'hidden' }}>
        <ChartBox left={0} top={0} width={400} height={212} make={bConfig} />
      </div>
      <ChartBox left={381} top={150} width={380} height={200} make={cConfig} />
      <ChartBox left={0} top={385} width={376} height={215} make={dConfig} />
      <ChartBox left={381} top={385} width={372} height={215} make={eConfig} />
      <Letter x={3} y={2} t="A" />
      <Letter x={3} y={162} t="B" />
      <Letter x={407} y={164} t="C" />
      <Letter x={3} y={369} t="D" />
      <Letter x={407} y={369} t="E" />
    </div>
  );
}
